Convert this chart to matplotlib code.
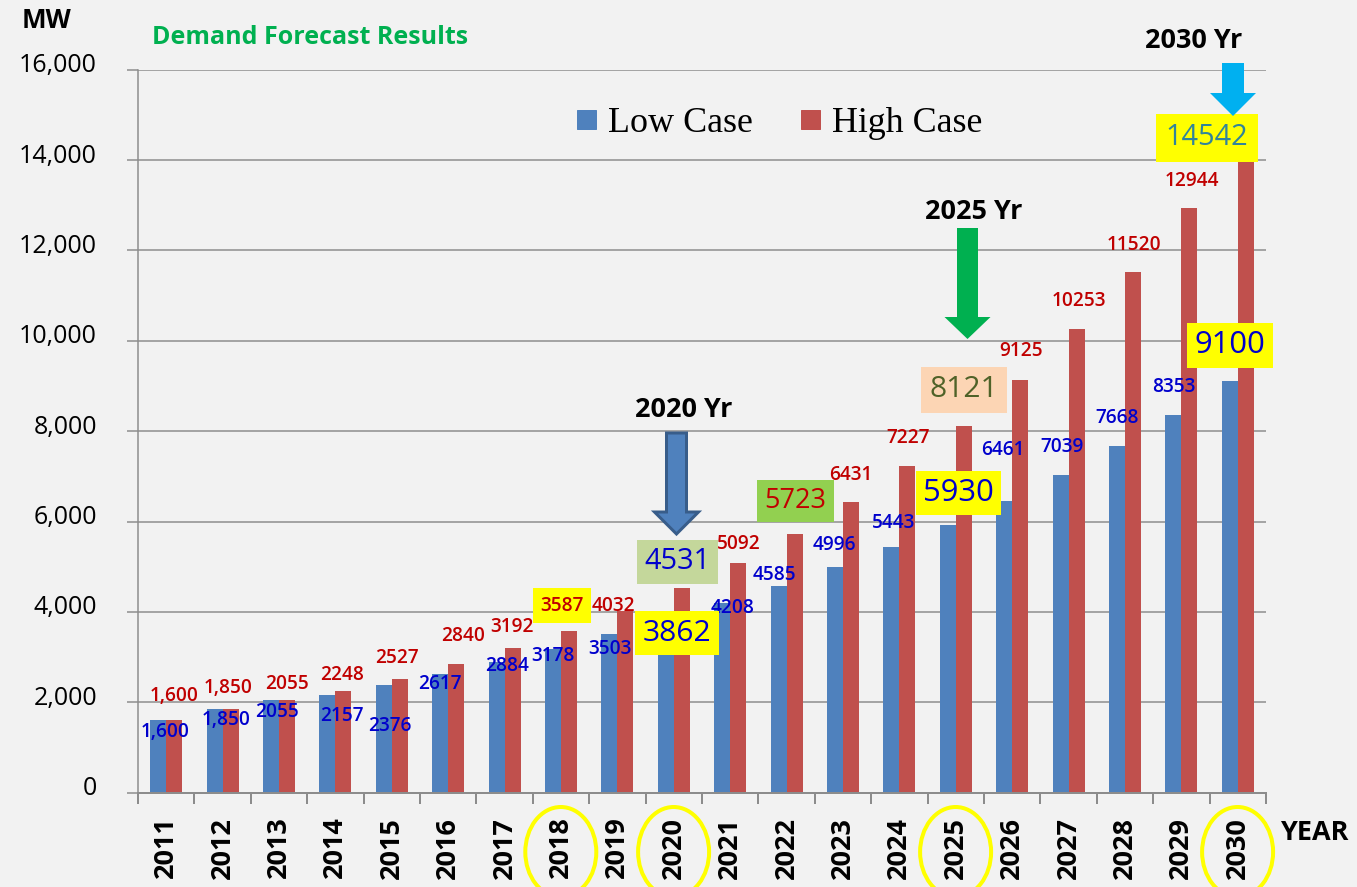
import matplotlib
matplotlib.use("Agg")
import matplotlib.pyplot as plt
import matplotlib.patches as mpatches
import matplotlib.transforms as mtrans
from matplotlib.lines import Line2D
import numpy as np

years = [str(y) for y in range(2011, 2031)]
low_case = [1600, 1850, 2055, 2157, 2376, 2617, 2884, 3178, 3503, 3862,
            4208, 4585, 4996, 5443, 5930, 6461, 7039, 7668, 8353, 9100]
high_case = [1600, 1850, 2055, 2248, 2527, 2840, 3192, 3587, 4032, 4531,
             5092, 5723, 6431, 7227, 8121, 9125, 10253, 11520, 12944, 14542]
low_text = ["1,600", "1,850"] + [str(v) for v in low_case[2:]]
high_text = ["1,600", "1,850"] + [str(v) for v in high_case[2:]]
circled_years = ["2018", "2020", "2025", "2030"]

# label offsets (px) from bar tops
low_off = [(7, -12), (11, -11), (6, -12), (14, -21), (6, -41), (0, -10), (10, -4),
           (0, -7), (1, -15), (11, -15), (10, -5), (-4, 11), (-1, 22), (2, 24),
           (11, 32), (-1, 51), (1, 28), (0, 28), (0, 28), (0, 36)]
high_off = [(0, 24), (-3, 21), (0, 16), (-1, 16), (-3, 21), (7, 28), (-1, 21),
            (-7, 25), (-12, 5), (-4, 26), (1, 19), (1, 33), (0, 27), (1, 28),
            (0, 36), (1, 29), (2, 28), (1, 27), (2, 27), (-39, -2)]
# highlighted values: index -> (box colour, text colour, font size, pad)
low_boxes = {9: ("#ffff00", "#0000cc", 30, 0.25),
             14: ("#ffff00", "#0000cc", 31, 0.23),
             19: ("#ffff00", "#0000cc", 31, 0.24)}
high_boxes = {7: ("#ffff00", "#c00000", 19, 0.38),
              9: ("#c4d79b", "#0000cc", 29, 0.26),
              11: ("#92d050", "#c00000", 27, 0.27),
              14: ("#fcd5b4", "#4f6228", 30, 0.28),
              19: ("#ffff00", "#31849b", 29, 0.33)}

W, H = 1357, 887
BG = "#f2f2f2"
GRID = "#8c8c8c"
plt.rcParams["font.family"] = ["Open Sans", "DejaVu Sans"]

fig = plt.figure(figsize=(W / 72, H / 72), dpi=72, facecolor=BG)
ax = fig.add_axes([138 / W, 1 - 792.7 / H, (1266 - 138) / W, (792.7 - 69.7) / H])
ax.set_facecolor(BG)

x = np.arange(len(years))
bw = 0.284
ax.bar(x - bw / 2, low_case, bw, color="#4f81bd", zorder=2, label="Low Case")
ax.bar(x + bw / 2, high_case, bw, color="#c0504d", zorder=2, label="High Case")

ax.set_xlim(-0.5, len(years) - 0.5)
ax.set_ylim(0, 16000)
ax.set_yticks(np.arange(0, 16001, 2000))
ax.set_yticklabels([f"{v:,}" for v in range(0, 16001, 2000)], fontsize=25)
ax.yaxis.grid(True, color=GRID, lw=1.5)
ax.set_axisbelow(True)
ax.tick_params(axis="y", direction="out", length=11, width=1.5, color=GRID, pad=30)
shift = mtrans.ScaledTranslation(0, 7 / 72, fig.dpi_scale_trans)
for lab in ax.get_yticklabels():
    lab.set_transform(lab.get_transform() + shift)

ax.set_xticks(x)
ax.set_xticklabels(years, rotation=90, fontsize=27, fontweight="bold")
ax.set_xticks(np.arange(-0.5, len(years), 1), minor=True)
ax.tick_params(axis="x", which="major", length=0, pad=24)
ax.tick_params(axis="x", which="minor", direction="out", length=11, width=2, color=GRID)
for s in ["top", "right"]:
    ax.spines[s].set_visible(False)
ax.spines["left"].set_color(GRID)
ax.spines["left"].set_linewidth(1.5)
ax.spines["bottom"].set_color(GRID)
ax.spines["bottom"].set_linewidth(2)

# value labels
for series, texts, offs, boxes, dxs, col in [
        (low_case, low_text, low_off, low_boxes, -bw / 2, "#0000cc"),
        (high_case, high_text, high_off, high_boxes, bw / 2, "#c00000")]:
    for i, v in enumerate(series):
        if i in boxes:
            fc, tc, fs, pad = boxes[i]
            ax.annotate(texts[i], (i + dxs, v), xytext=offs[i], textcoords="offset points",
                        ha="center", va="center", fontsize=fs, color=tc,
                        fontweight="semibold" if fs < 20 else "normal",
                        bbox=dict(boxstyle=f"square,pad={pad}", fc=fc, ec="none"),
                        zorder=6, annotation_clip=False)
        else:
            ax.annotate(texts[i], (i + dxs, v), xytext=offs[i], textcoords="offset points",
                        ha="center", va="center", fontsize=19, color=col,
                        fontweight="semibold", zorder=5, annotation_clip=False)


def fpos(px, py):
    return (px / W, 1 - py / H)


def down_arrow(xc, top, base, tip, shaft, head, fc, ec=None, lw=0):
    pts = [(xc - shaft / 2, top), (xc + shaft / 2, top), (xc + shaft / 2, base),
           (xc + head / 2, base), (xc, tip), (xc - head / 2, base),
           (xc - shaft / 2, base)]
    poly = mpatches.Polygon([fpos(a, b) for a, b in pts], closed=True,
                            transform=fig.transFigure, fc=fc,
                            ec=ec if ec else fc, lw=lw, zorder=7)
    fig.patches.append(poly)


down_arrow(676.5, 433, 512, 534, 20, 44, "#4f81bd", "#385d8a", 3)
down_arrow(967.5, 228, 317, 339, 21, 46, "#00b050")
down_arrow(1233, 63, 93, 116, 22, 46, "#00b0f0")

fig.text(*fpos(684, 410), "2020 Yr", fontsize=27, fontweight="bold", ha="center", va="center")
fig.text(*fpos(974, 212), "2025 Yr", fontsize=27, fontweight="bold", ha="center", va="center")
fig.text(*fpos(1194, 41), "2030 Yr", fontsize=27, fontweight="bold", ha="center", va="center")
fig.text(*fpos(46, 21), "MW", fontsize=26, fontweight="bold", ha="center", va="center")
fig.text(*fpos(310, 37), "Demand Forecast Results", fontsize=25, fontweight="bold",
         color="#00b050", ha="center", va="center")
fig.text(*fpos(1314, 833), "YEAR", fontsize=27, fontweight="bold", ha="center", va="center")

# circles around key years
for yr in circled_years:
    i = years.index(yr)
    cx = 166 + 56.4 * i
    fig.patches.append(mpatches.Ellipse(fpos(cx, 852), 71 / W, 90 / H,
                                        transform=fig.transFigure, fill=False,
                                        ec="#ffff00", lw=4, zorder=8))

handles = [Line2D([], [], marker="s", ls="", color="#4f81bd", markersize=19),
           Line2D([], [], marker="s", ls="", color="#c0504d", markersize=19)]
fig.legend(handles, ["Low Case", "High Case"], loc="center", ncol=2,
           bbox_to_anchor=fpos(775, 123), frameon=False,
           prop={"family": "Liberation Serif", "size": 36},
           handlelength=1, handletextpad=0.1, columnspacing=1.1)

fig.savefig("out.png", dpi=72, facecolor=BG)
